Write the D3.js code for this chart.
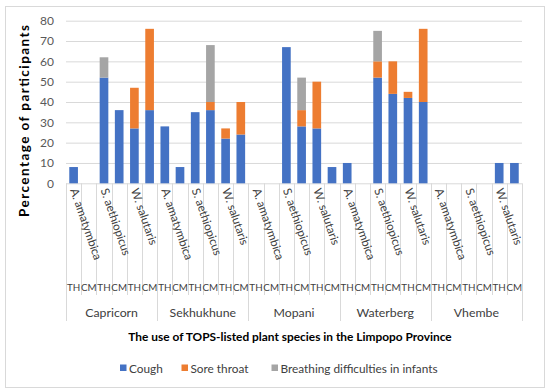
<!DOCTYPE html>
<html>
<head>
<meta charset="utf-8">
<script src="https://cdn.jsdelivr.net/npm/d3@7"></script>
<style>
  html, body { margin: 0; padding: 0; background: #fff; }
  svg { display: block; font-family: Lato, "Open Sans", sans-serif; }
</style>
</head>
<body>
<svg id="chart" width="550" height="391"></svg>
<script>
const regions = ["Capricorn", "Sekhukhune", "Mopani", "Waterberg", "Vhembe"];
const species = ["A. amatymbica", "S. aethiopicus", "W. salutaris"];
const sources = ["TH", "CM"];
const seriesNames = ["Cough", "Sore throat", "Breathing difficulties in infants"];
const cough      = [8, 0, 52, 36, 27, 36,  28, 8, 35, 36, 22, 24,  0, 0, 67, 28, 27, 8,  10, 0, 52, 44, 42, 40,  0, 0, 0, 0, 10, 10];
const soreThroat = [0, 0, 0, 0, 20, 40,  0, 0, 0, 4, 5, 16,  0, 0, 0, 8, 23, 0,  0, 0, 8, 16, 3, 36,  0, 0, 0, 0, 0, 0];
const breathing  = [0, 0, 10, 0, 0, 0,  0, 0, 0, 28, 0, 0,  0, 0, 0, 16, 0, 0,  0, 0, 15, 0, 0, 0,  0, 0, 0, 0, 0, 0];
const yTicks = [0, 10, 20, 30, 40, 50, 60, 70, 80];
const colors = ["#4472C4", "#ED7D31", "#A5A5A5"];

// build category rows
const rows = [];
regions.forEach((r, ri) => species.forEach((s, si) => sources.forEach((src, ki) => {
  const i = rows.length;
  rows.push({ id: i, region: r, species: s, source: src,
    "Cough": cough[i], "Sore throat": soreThroat[i], "Breathing difficulties in infants": breathing[i] });
})));

const svg = d3.select("#chart");
const plot = { left: 66, right: 522, top: 20.7, bottom: 183.3 };

// outer border
svg.append("rect").attr("x", 5.5).attr("y", 6.5).attr("width", 539).attr("height", 381)
  .attr("fill", "#fff").attr("stroke", "#d9d9d9").attr("stroke-width", 1);

const x = d3.scaleBand().domain(rows.map(d => d.id)).range([plot.left, plot.right]).paddingInner(0.43).paddingOuter(0.215);
const xb = d3.scaleBand().domain(rows.map(d => d.id)).range([plot.left, plot.right]);
const y = d3.scaleLinear().domain([0, 80]).range([plot.bottom, plot.top]);

// gridlines + y labels via axis
const yAxis = d3.axisLeft(y).tickValues(yTicks).tickSize(-(plot.right - plot.left)).tickPadding(12);
const ga = svg.append("g").attr("transform", `translate(${plot.left},0)`).call(yAxis);
ga.select(".domain").remove();
ga.selectAll(".tick line").attr("stroke", "#d9d9d9").attr("stroke-width", 1);
ga.selectAll(".tick text").attr("font-family", "Lato, 'Open Sans', sans-serif").attr("font-size", 12).attr("fill", "#595959");

// stacked bars
const stack = d3.stack().keys(seriesNames);
const layers = stack(rows);
svg.append("g").selectAll("g").data(layers).join("g")
  .attr("fill", (d, i) => colors[i])
  .selectAll("rect").data(d => d.filter(v => v[1] - v[0] > 0)).join("rect")
  .attr("x", d => x(d.data.id))
  .attr("width", x.bandwidth())
  .attr("y", d => y(d[1]))
  .attr("height", d => y(d[0]) - y(d[1]));

// category separator lines
const gl = svg.append("g").attr("stroke", "#d9d9d9").attr("stroke-width", 1);
for (let i = 0; i <= rows.length; i++) {
  const xx = i < rows.length ? xb(i) : plot.right;
  const isRegion = i % 6 === 0;
  gl.append("line").attr("x1", Math.round(xx) + 0.5).attr("x2", Math.round(xx) + 0.5)
    .attr("y1", plot.bottom).attr("y2", isRegion ? 321 : 295);
}

// species labels (rotated)
const gs = svg.append("g").attr("font-size", 11.6).attr("fill", "#404040");
rows.filter(d => d.source === "TH").forEach(d => {
  const sx = xb(d.id) + 4;
  gs.append("text").attr("transform", `translate(${sx},190) rotate(71)`)
    .attr("text-anchor", "start").text(d.species);
});

// TH / CM labels
const gt = svg.append("g").attr("font-size", 9.8).attr("fill", "#404040").attr("text-anchor", "middle");
rows.forEach(d => {
  gt.append("text").attr("x", xb(d.id) + xb.bandwidth() / 2).attr("y", 291).text(d.source);
});

// region labels
const gr = svg.append("g").attr("font-size", 12.3).attr("fill", "#404040").attr("text-anchor", "middle");
regions.forEach((r, ri) => {
  const x0 = xb(ri * 6), x1 = ri * 6 + 6 < rows.length ? xb(ri * 6 + 6) : plot.right;
  gr.append("text").attr("x", (x0 + x1) / 2).attr("y", 317).text(r);
});

// axis titles
svg.append("text").attr("x", 290).attr("y", 341).attr("text-anchor", "middle")
  .attr("font-weight", "bold").attr("font-size", 11.9).attr("fill", "#000")
  .text("The use of TOPS-listed plant species in the Limpopo Province");
svg.append("text").attr("transform", "translate(29,121) rotate(-90)").attr("text-anchor", "middle")
  .attr("font-weight", "bold").attr("font-size", 13.5).attr("fill", "#000")
  .attr("textLength", 192).attr("lengthAdjust", "spacing")
  .text("Percentage of participants");

// legend
const legendX = [120, 181.5, 271.5];
const lg = svg.append("g").attr("font-size", 11.8).attr("fill", "#404040");
seriesNames.forEach((s, i) => {
  lg.append("rect").attr("x", legendX[i]).attr("y", 364.5).attr("width", 6.5).attr("height", 6.5).attr("fill", colors[i]);
  lg.append("text").attr("x", legendX[i] + 9).attr("y", 372.5).text(s);
});
</script>
</body>
</html>
